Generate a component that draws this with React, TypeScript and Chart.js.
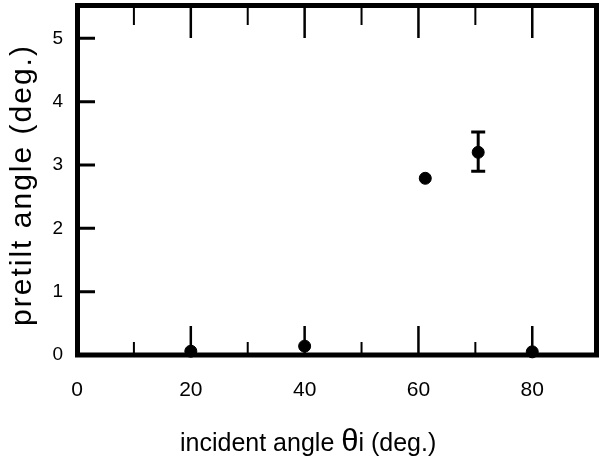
import React, { useEffect, useRef } from "react";
import { Chart, registerables } from "chart.js";

Chart.register(...registerables);

const incidentAngles = [20, 40, 61.2, 70.5, 80];
const pretiltAngles = [0.06, 0.14, 2.79, 3.2, 0.05];
const errorLow: (number | null)[] = [null, null, null, 2.9, null];
const errorHigh: (number | null)[] = [null, null, null, 3.52, null];
const xMajorTicks = [0, 20, 40, 60, 80];
const xMinorTicks = [10, 30, 50, 70];
const yMajorTicks = [0, 1, 2, 3, 4, 5];
const xTitleParts = ["incident angle ", "θ", "i (deg.)"];
const yTitle = "pretilt angle (deg.)";

const FONT = '"Liberation Sans", Arial, Helvetica, sans-serif';

const framePlugin = {
  id: "framePlugin",
  afterDatasetsDraw(chart: any) {
    const { ctx, chartArea, scales } = chart;
    const xs = scales.x;
    const ys = scales.y;
    const { left, right, top, bottom } = chartArea;
    ctx.save();
    ctx.strokeStyle = "#000";
    ctx.fillStyle = "#000";

    // error bars
    ctx.lineWidth = 3;
    incidentAngles.forEach((xv, i) => {
      const lo = errorLow[i];
      const hi = errorHigh[i];
      if (lo == null || hi == null) return;
      const px = xs.getPixelForValue(xv);
      const pLo = ys.getPixelForValue(lo);
      const pHi = ys.getPixelForValue(hi);
      ctx.beginPath();
      ctx.moveTo(px, pLo);
      ctx.lineTo(px, pHi);
      ctx.moveTo(px - 7, pLo);
      ctx.lineTo(px + 7, pLo);
      ctx.moveTo(px - 7, pHi);
      ctx.lineTo(px + 7, pHi);
      ctx.stroke();
    });

    // ticks
    ctx.lineWidth = 2.5;
    ctx.beginPath();
    xMajorTicks.forEach((v) => {
      if (v === 0) return;
      const px = xs.getPixelForValue(v);
      ctx.moveTo(px, bottom);
      ctx.lineTo(px, bottom - 29);
      ctx.moveTo(px, top);
      ctx.lineTo(px, top + 32);
    });
    ctx.stroke();
    ctx.lineWidth = 2;
    ctx.beginPath();
    xMinorTicks.forEach((v) => {
      const px = xs.getPixelForValue(v);
      ctx.moveTo(px, bottom);
      ctx.lineTo(px, bottom - 13);
      ctx.moveTo(px, top);
      ctx.lineTo(px, top + 19);
    });
    ctx.stroke();
    ctx.lineWidth = 3;
    ctx.beginPath();
    yMajorTicks.forEach((v) => {
      if (v === 0) return;
      const py = ys.getPixelForValue(v);
      ctx.moveTo(left, py);
      ctx.lineTo(left + 18, py);
    });
    ctx.stroke();

    // frame
    ctx.lineWidth = 5;
    ctx.strokeRect(left + 0.5, top - 0.5, right - left, bottom - top + 0.5);
    ctx.restore();
  },
  afterDraw(chart: any) {
    const { ctx } = chart;
    ctx.save();
    ctx.fillStyle = "#000";
    ctx.textBaseline = "alphabetic";
    // x title
    const sizes = [25, 31, 25];
    let x = 180;
    xTitleParts.forEach((t, i) => {
      ctx.font = `${sizes[i]}px ${FONT}`;
      ctx.fillText(t, x, 451);
      x += ctx.measureText(t).width;
    });
    // y title
    ctx.translate(31, 185);
    ctx.rotate(-Math.PI / 2);
    ctx.font = `30px ${FONT}`;
    (ctx as any).letterSpacing = "2px";
    ctx.textAlign = "center";
    ctx.fillText(yTitle, 0, 0);
    ctx.restore();
  },
};

export default function App() {
  const ref = useRef<HTMLCanvasElement>(null);
  useEffect(() => {
    if (!ref.current) return;
    const chart = new Chart(ref.current, {
      type: "scatter",
      data: {
        datasets: [
          {
            data: incidentAngles.map((x, i) => ({ x, y: pretiltAngles[i] })),
            backgroundColor: "#000",
            borderColor: "#000",
            pointRadius: 6,
            pointHoverRadius: 6,
            pointStyle: "circle",
            clip: false as any,
          },
        ],
      },
      options: {
        animation: false,
        responsive: false,
        devicePixelRatio: 1,
        events: [],
        layout: { autoPadding: false, padding: { top: 6, right: 4, left: 0, bottom: 0 } },
        plugins: { legend: { display: false }, tooltip: { enabled: false } },
        scales: {
          x: {
            type: "linear",
            min: 0,
            max: 91.2,
            grid: { display: false, drawTicks: false },
            border: { display: false },
            afterBuildTicks: (s: any) => {
              s.ticks = xMajorTicks.map((v) => ({ value: v }));
            },
            afterFit: (s: any) => {
              s.height = 108;
              s.paddingLeft = 0;
              s.paddingRight = 0;
              s.paddingTop = 0;
              s.paddingBottom = 0;
            },
            ticks: {
              color: "#000",
              font: { family: FONT, size: 21 },
              padding: 23,
              maxRotation: 0,
              autoSkip: false,
            },
          },
          y: {
            type: "linear",
            min: 0,
            max: 5.51,
            grid: { display: false, drawTicks: false },
            border: { display: false },
            afterBuildTicks: (s: any) => {
              s.ticks = yMajorTicks.map((v) => ({ value: v }));
            },
            afterFit: (s: any) => {
              s.width = 77;
              s.paddingLeft = 0;
              s.paddingRight = 0;
              s.paddingTop = 0;
              s.paddingBottom = 0;
            },
            ticks: {
              color: "#000",
              font: { family: FONT, size: 19 },
              padding: 14,
              autoSkip: false,
            },
          },
        },
      },
      plugins: [framePlugin],
    });
    return () => chart.destroy();
  }, []);
  return (
    <div style={{ position: "absolute", left: 0, top: 0, width: 600, height: 463, background: "#fff" }}>
      <canvas ref={ref} width={600} height={463} style={{ width: 600, height: 463, display: "block" }} />
    </div>
  );
}
